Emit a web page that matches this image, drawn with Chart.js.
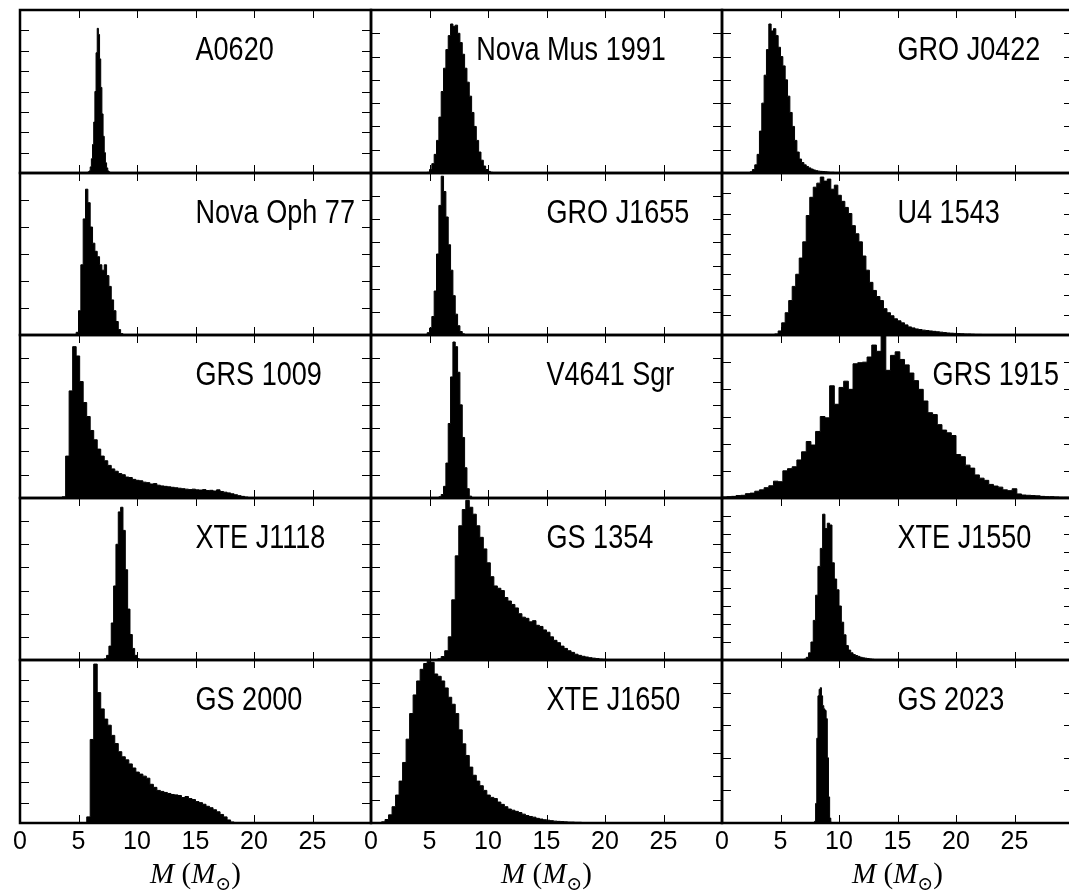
<!DOCTYPE html>
<html>
<head>
<meta charset="utf-8">
<script src="https://cdn.jsdelivr.net/npm/chart.js@4.4.0/dist/chart.umd.min.js"></script>
<style>
  body { margin: 0; background: #fff; }
  #fig { position: relative; width: 1069px; height: 894px; overflow: hidden; background: #fff; }
  #fig canvas { position: absolute; }
  .xlabel { position: absolute; top: 858px; width: 351px; text-align: center;
            font-family: 'Liberation Serif', 'DejaVu Serif', serif; font-size: 29px; line-height: 30px; color: #000; }
  .xlabel sub { font-size: 19px; }
</style>
</head>
<body>
<div id="fig"></div>
<script>
// panel names, read row by row
const names = ['A0620', 'Nova Mus 1991', 'GRO J0422',
               'Nova Oph 77', 'GRO J1655', 'U4 1543',
               'GRS 1009', 'V4641 Sgr', 'GRS 1915',
               'XTE J1118', 'GS 1354', 'XTE J1550',
               'GS 2000', 'XTE J1650', 'GS 2023'];
// where the name starts (in M units)
const labelX = [15, 9, 15, 15, 15, 15, 15, 15, 18, 15, 15, 15, 15, 15, 15];
// number of y tick intervals in each panel
const yIntervals = [8, 7, 7, 6, 7, 8, 7, 7, 6, 7, 7, 9, 8, 7, 5];
// histogram bins: left edge of first bin and bin width (M_sun)
const binStart = [5.8, 4.8, 2.4, 4.8, 4.8, 4.5, 3.6, 5.8, 0, 7.2, 5.7, 7.0, 5.7, 0.9, 7.9];
const binWidth = [0.1, 0.2, 0.2, 0.2, 0.2, 0.3, 0.3, 0.2, 0.4, 0.2, 0.3, 0.2, 0.3, 0.3, 0.1];
const xTickLabels = ['0', '5', '10', '15', '20', '25'];

// bin heights, in y tick units
const a0620 = [0.05, 0.1, 0.3, 0.7, 1.4, 2.5, 4.0, 5.9, 7.1, 6.8, 5.6, 4.2, 2.9, 1.8, 1.0, 0.5, 0.25, 0.1, 0.05];
const novaMus = [0.03, 0.15, 0.4, 0.8, 1.4, 2.4, 3.5, 4.5, 5.3, 5.9, 6.4, 6.3, 6.35, 6.0, 5.6, 5.1, 4.5, 3.9,
                 3.3, 2.6, 2.0, 1.4, 0.9, 0.55, 0.3, 0.15, 0.07, 0.03];
const groJ0422 = [0.05, 0.15, 0.35, 0.8, 1.8, 3.0, 4.2, 5.3, 6.4, 6.1, 6.2, 5.9, 5.4, 5.0, 4.6, 4.0, 3.3, 2.6,
                  2.0, 1.4, 0.9, 0.6, 0.45, 0.35, 0.28, 0.22, 0.17, 0.13, 0.1, 0.08, 0.07, 0.06, 0.05, 0.04,
                  0.03, 0.03, 0.02, 0.02];
const novaOph = [0.1, 0.9, 2.6, 4.3, 5.4, 4.9, 4.0, 3.4, 3.1, 2.9, 2.6, 2.4, 2.6, 2.2, 1.8, 1.3, 0.9, 0.5, 0.2, 0.05];
const groJ1655 = [0.1, 0.3, 0.8, 1.9, 3.5, 5.6, 6.86, 6.2, 5.1, 3.9, 2.8, 1.7, 0.9, 0.4, 0.15, 0.05];
const u41543 = [0.05, 0.2, 0.6, 1.1, 1.7, 2.4, 3.0, 3.8, 4.6, 5.9, 6.8, 7.3, 7.5, 7.8, 7.6, 7.7, 7.2, 7.4, 6.9,
                6.6, 6.3, 6.0, 5.4, 5.0, 4.6, 3.9, 3.2, 2.6, 2.2, 1.9, 1.7, 1.3, 1.1, 0.95, 0.8, 0.7, 0.6, 0.5,
                0.4, 0.35, 0.3, 0.27, 0.24, 0.22, 0.2, 0.18, 0.16, 0.14, 0.12, 0.1, 0.09, 0.08, 0.07, 0.06,
                0.05, 0.05, 0.04, 0.03, 0.03, 0.02];
const grs1009 = [0.05, 1.8, 4.6, 6.5, 6.1, 5.0, 4.1, 3.5, 2.9, 2.5, 2.1, 1.8, 1.6, 1.4, 1.25, 1.15, 1.05, 1.0,
                 0.9, 0.88, 0.8, 0.76, 0.74, 0.68, 0.66, 0.6, 0.62, 0.55, 0.52, 0.5, 0.48, 0.46, 0.44, 0.42,
                 0.4, 0.38, 0.36, 0.38, 0.35, 0.34, 0.36, 0.32, 0.33, 0.3, 0.35, 0.28, 0.25, 0.22, 0.18, 0.14,
                 0.1, 0.07, 0.04, 0.02, 0.01];
const v4641 = [0.05, 0.15, 0.5, 1.5, 3.2, 5.2, 6.7, 6.5, 5.4, 4.0, 2.6, 1.3, 0.4, 0.08];
const grs1915 = [0.04, 0.05, 0.06, 0.09, 0.1, 0.16, 0.18, 0.25, 0.3, 0.38, 0.45, 0.62, 0.6, 1.0, 1.08, 1.15,
                 1.4, 1.7, 2.08, 1.95, 2.45, 3.0, 2.95, 4.13, 3.45, 4.07, 4.3, 4.0, 4.94, 4.98, 5.0, 5.19, 5.63,
                 5.4, 6.15, 4.7, 5.25, 5.38, 5.1, 4.9, 4.6, 4.32, 4.0, 3.57, 3.14, 3.07, 2.7, 2.5, 2.4, 2.3,
                 1.6, 1.52, 1.21, 1.1, 0.85, 0.73, 0.65, 0.5, 0.44, 0.4, 0.3, 0.27, 0.34, 0.15, 0.11, 0.1,
                 0.09, 0.08, 0.06, 0.05, 0.05, 0.04, 0.03, 0.03, 0.03];
const xteJ1118 = [0.05, 0.2, 0.6, 1.6, 3.2, 5.0, 6.4, 6.6, 5.6, 3.9, 2.2, 1.1, 0.5, 0.2, 0.06];
const gs1354 = [0.05, 0.15, 0.4, 1.0, 2.6, 4.5, 5.8, 6.5, 6.9, 6.6, 6.3, 5.8, 5.3, 4.8, 4.2, 3.6, 3.2, 3.1,
                3.0, 2.7, 2.55, 2.4, 2.25, 2.0, 1.85, 1.8, 1.65, 1.7, 1.5, 1.45, 1.3, 1.2, 1.0, 0.85, 0.75,
                0.6, 0.5, 0.4, 0.33, 0.25, 0.2, 0.16, 0.13, 0.1, 0.08, 0.06, 0.04, 0.03, 0.02];
const xteJ1550 = [0.05, 0.15, 0.4, 1.0, 2.2, 3.6, 5.2, 6.2, 8.1, 7.3, 7.6, 7.5, 5.4, 4.5, 3.9, 3.0, 2.1, 1.4,
                  0.8, 0.55, 0.4, 0.3, 0.25, 0.2, 0.15, 0.12, 0.1, 0.08, 0.06, 0.04];
const gs2000 = [0.3, 4.1, 7.8, 6.4, 5.6, 5.1, 4.8, 4.3, 3.9, 3.5, 3.25, 3.1, 2.9, 2.7, 2.5, 2.4, 2.3, 2.2, 1.9,
                1.75, 1.6, 1.55, 1.5, 1.45, 1.4, 1.38, 1.35, 1.25, 1.3, 1.2, 1.15, 1.05, 1.0, 0.92, 0.82, 0.75,
                0.65, 0.55, 0.42, 0.3, 0.15, 0.05];
const xteJ1650 = [0.05, 0.15, 0.35, 0.7, 1.2, 1.8, 2.6, 3.6, 4.7, 5.5, 6.1, 6.6, 6.85, 6.95, 6.9, 6.4, 6.3, 6.1,
                  5.8, 5.4, 5.1, 4.7, 4.0, 3.4, 2.9, 2.4, 2.05, 1.8, 1.6, 1.4, 1.2, 1.1, 1.05, 0.9, 0.8, 0.7,
                  0.6, 0.55, 0.5, 0.45, 0.38, 0.32, 0.28, 0.25, 0.2, 0.17, 0.14, 0.12, 0.1, 0.08, 0.07, 0.06,
                  0.05, 0.04, 0.04, 0.03, 0.03, 0.02];
const gs2023 = [0.05, 0.6, 2.6, 3.9, 4.1, 4.15, 3.9, 3.6, 3.5, 3.45, 3.2, 2.0, 0.8, 0.15, 0.02];

const counts = [a0620, novaMus, groJ0422, novaOph, groJ1655, u41543, grs1009, v4641, grs1915,
                xteJ1118, gs1354, xteJ1550, gs2000, xteJ1650, gs2023];

// layout of the grid (px)
const colLeft = [20, 371, 722];
const rowTop = [10, 173, 335, 498, 660, 823];
const panelW = 351;
const pad = 12;
const axisH = 34;
const sans = "'Liberation Sans', Arial, sans-serif";
const labelFont = "33px 'Liberation Sans', Arial, sans-serif";
const labelSquash = 0.82;   // names are set in a narrow face

// frame, inward ticks on all four sides, and the panel name
const panelDecor = {
  id: 'panelDecor',
  afterDatasetsDraw(chart, args, opts) {
    const {ctx, chartArea: a, scales: {x, y}} = chart;
    ctx.save();
    ctx.strokeStyle = '#000';
    ctx.lineWidth = 1;
    ctx.beginPath();
    [5, 10, 15, 20, 25].forEach(v => {
      const px = Math.round(x.getPixelForValue(v)) + 0.5;
      ctx.moveTo(px, a.bottom); ctx.lineTo(px, a.bottom - 8);
      ctx.moveTo(px, a.top); ctx.lineTo(px, a.top + 8);
    });
    for (let v = 1; v < opts.n; v++) {
      const py = Math.round(y.getPixelForValue(v)) + 0.5;
      ctx.moveTo(a.left, py); ctx.lineTo(a.left + 9, py);
      ctx.moveTo(a.right, py); ctx.lineTo(a.right - 9, py);
    }
    ctx.stroke();
    ctx.lineWidth = 2.5;
    ctx.strokeRect(a.left, a.top, a.right - a.left, a.bottom - a.top);
    ctx.fillStyle = '#000';
    ctx.font = labelFont;
    ctx.textAlign = 'left';
    ctx.textBaseline = 'alphabetic';
    ctx.translate(x.getPixelForValue(opts.labelX), a.top + 50);
    ctx.scale(labelSquash, 1);
    ctx.fillText(opts.label, 0, 0);
    ctx.restore();
  }
};

const fig = document.getElementById('fig');

names.forEach((name, k) => {
  const r = Math.floor(k / 3), c = k % 3;
  const bottomRow = r === 4;
  const h = rowTop[r + 1] - rowTop[r];
  const W = panelW + 2 * pad;
  const H = h + 2 * pad + (bottomRow ? axisH : 0);
  const cv = document.createElement('canvas');
  cv.width = W; cv.height = H;
  cv.style.width = W + 'px'; cv.style.height = H + 'px';
  cv.style.left = (colLeft[c] - pad) + 'px';
  cv.style.top = (rowTop[r] - pad) + 'px';
  fig.appendChild(cv);

  // step outline of the histogram, closed to zero at both ends
  const pts = [{x: binStart[k], y: 0}];
  counts[k].forEach((v, i) => pts.push({x: binStart[k] + i * binWidth[k], y: v}));
  pts.push({x: binStart[k] + counts[k].length * binWidth[k], y: 0});

  new Chart(cv, {
    type: 'line',
    data: {
      datasets: [{
        data: pts,
        stepped: true,
        fill: 'origin',
        backgroundColor: '#000',
        borderColor: '#000',
        borderWidth: 1,
        pointRadius: 0,
        clip: false
      }]
    },
    options: {
      responsive: false,
      animation: false,
      layout: { padding: pad },
      scales: {
        x: {
          type: 'linear',
          min: 0,
          max: 30,
          display: bottomRow,
          grid: { display: false, drawTicks: false },
          border: { display: false },
          ticks: {
            stepSize: 5,
            autoSkip: false,
            maxRotation: 0,
            padding: 4,
            color: '#000',
            font: { family: sans, size: 25 },
            callback: v => xTickLabels.includes(String(v)) ? String(v) : ''
          },
          afterFit: s => { if (bottomRow) s.height = axisH; }
        },
        y: {
          min: 0,
          max: yIntervals[k],
          display: false
        }
      },
      plugins: {
        legend: { display: false },
        tooltip: { enabled: false },
        panelDecor: { n: yIntervals[k], label: name, labelX: labelX[k] }
      }
    },
    plugins: [panelDecor]
  });
});

// axis titles under each column
colLeft.forEach(left => {
  const d = document.createElement('div');
  d.className = 'xlabel';
  d.style.left = left + 'px';
  d.innerHTML = '<i>M</i> (<i>M</i><sub>\u2299</sub>)';
  fig.appendChild(d);
});
</script>
</body>
</html>
